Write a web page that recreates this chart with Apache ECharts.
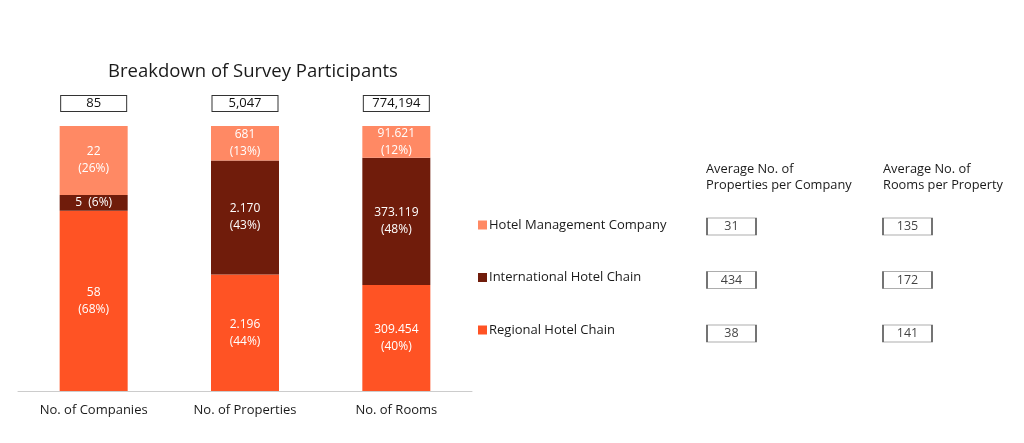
<!DOCTYPE html>
<html>
<head>
<meta charset="utf-8">
<script src="https://cdn.jsdelivr.net/npm/echarts@6/dist/echarts.min.js"></script>
<style>
html,body{margin:0;padding:0;background:#fff;}
#chart{width:1024px;height:443px;}
</style>
</head>
<body>
<div id="chart"></div>
<script>
// ---- data ----
const categories = ['No. of Companies', 'No. of Properties', 'No. of Rooms'];
const seriesNames = ['Hotel Management Company', 'International Hotel Chain', 'Regional Hotel Chain'];
const totals = [85, 5047, 774194];
// counts (bottom to top stacking: regional, international, management)
const regionalCounts = [58, 2196, 309454];
const internationalCounts = [5, 2170, 373119];
const managementCounts = [22, 681, 91621];
const regionalPct = [68, 44, 40];
const internationalPct = [6, 43, 48];
const managementPct = [26, 13, 12];
// right-hand table
const tableColumns = ['Average No. of\nProperties per Company', 'Average No. of\nRooms per Property'];
const avgPropertiesPerCompany = [31, 434, 38];   // HMC, IHC, RHC
const avgRoomsPerProperty = [135, 172, 141];

const colors = { mgmt: '#FF8964', intl: '#701C0B', reg: '#FF5324' };
const FONT = '"Open Sans", "Noto Sans", sans-serif';

function dotFmt(n) { return String(n).replace(/\B(?=(\d{3})+(?!\d))/g, '.'); }
function commaFmt(n) { return String(n).replace(/\B(?=(\d{3})+(?!\d))/g, ','); }

function segLabel(counts, pcts) {
  return function (p) {
    const i = p.dataIndex;
    if (pcts[i] < 10) return dotFmt(counts[i]) + '  (' + pcts[i] + '%)';
    return dotFmt(counts[i]) + '\n(' + pcts[i] + '%)';
  };
}
const innerLabel = { show: true, position: 'inside', color: '#fff', fontSize: 12, lineHeight: 17, fontFamily: FONT };

const tableData = [];
avgPropertiesPerCompany.forEach((v, r) => tableData.push([0, r, v]));
avgRoomsPerProperty.forEach((v, r) => tableData.push([1, r, v]));

const chart = echarts.init(document.getElementById('chart'));
chart.setOption({
  animation: false,
  backgroundColor: '#fff',
  textStyle: { fontFamily: FONT },
  title: {
    text: 'Breakdown of Survey Participants',
    left: 248, top: 57, textAlign: 'center',
    textStyle: { fontSize: 18.5, fontWeight: 'normal', color: '#1a1a1a', fontFamily: FONT }
  },
  legend: {
    data: seriesNames,
    orient: 'vertical',
    left: 473, top: 213,
    itemWidth: 9, itemHeight: 9,
    itemGap: 38.5,
    icon: 'rect',
    selectedMode: false,
    textStyle: { fontSize: 13, lineHeight: 14, color: '#1a1a1a', fontFamily: FONT, padding: [0, 0, 0, -3] }
  },
  graphic: tableColumns.map((t, i) => ({
    type: 'text',
    left: i === 0 ? 706 : 883,
    top: 161,
    style: { text: t, fontSize: 12.8, lineHeight: 16, fill: '#1a1a1a', fontFamily: FONT }
  })),
  grid: [
    { left: 18, right: 552, top: 126, bottom: 52 },
    { left: 643.5, right: 28.5, top: 199.75, bottom: 82.75 }
  ],
  xAxis: [
    {
      type: 'category', gridIndex: 0, data: categories,
      axisLine: { lineStyle: { color: '#cccccc', width: 1 } },
      axisTick: { show: false },
      axisLabel: { color: '#1a1a1a', fontSize: 13, margin: 13, fontFamily: FONT }
    },
    { type: 'category', gridIndex: 1, data: ['c1', 'c2'], show: false }
  ],
  yAxis: [
    { type: 'value', gridIndex: 0, min: 0, max: 100, show: false },
    { type: 'category', gridIndex: 1, data: ['r1', 'r2', 'r3'], inverse: true, show: false }
  ],
  series: [
    {
      name: seriesNames[2], type: 'bar', stack: 's', barWidth: 68,
      data: regionalPct, itemStyle: { color: colors.reg },
      label: Object.assign({}, innerLabel, { formatter: segLabel(regionalCounts, regionalPct) })
    },
    {
      name: seriesNames[1], type: 'bar', stack: 's', barWidth: 68,
      data: internationalPct, itemStyle: { color: colors.intl },
      label: Object.assign({}, innerLabel, { formatter: segLabel(internationalCounts, internationalPct) })
    },
    {
      name: seriesNames[0], type: 'bar', stack: 's', barWidth: 68,
      data: managementPct, itemStyle: { color: colors.mgmt },
      label: Object.assign({}, innerLabel, { formatter: segLabel(managementCounts, managementPct) })
    },
    {
      name: 'Total', type: 'bar', stack: 's', barWidth: 68,
      data: totals.map(() => 0), itemStyle: { color: 'transparent' },
      label: {
        show: true, position: 'top', distance: 15,
        formatter: p => commaFmt(totals[p.dataIndex]),
        color: '#111', fontSize: 13, fontFamily: FONT,
        backgroundColor: '#fff', borderColor: '#333', borderWidth: 1,
        width: 65, height: 15, lineHeight: 15, align: 'center', padding: 0
      }
    },
    {
      name: 'Averages', type: 'scatter', xAxisIndex: 1, yAxisIndex: 1,
      symbol: 'rect', symbolSize: [49, 17], silent: true,
      itemStyle: { color: '#fff', borderColor: '#333', borderWidth: 1 },
      label: { show: true, position: 'inside', formatter: p => String(p.value[2]), color: '#111', fontSize: 12.5, fontFamily: FONT },
      data: tableData
    }
  ]
});
</script>
</body>
</html>
